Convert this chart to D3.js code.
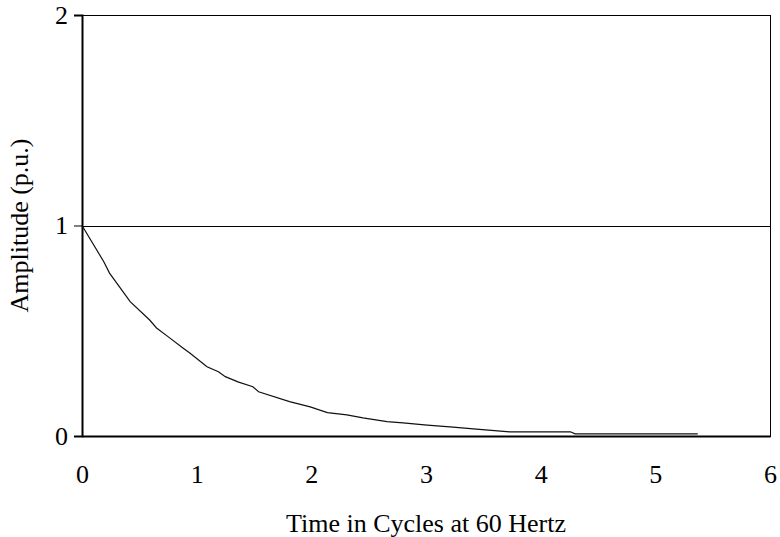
<!DOCTYPE html>
<meta charset="utf-8">
<style>
  body { margin: 0; background: #fff; }
  text { font-family: 'Liberation Serif', 'Times New Roman', serif; fill: #000; }
</style>
<script src="https://d3js.org/d3.v7.min.js"></script>
<div id="chart"></div>
<script>
// decay curve (time in cycles, amplitude in p.u.)
var cycles = [0, 0.19, 0.24, 0.42, 0.59, 0.65, 0.75, 0.88, 0.94, 1.09, 1.19, 1.25, 1.36, 1.49, 1.54,
              1.81, 1.99, 2.14, 2.31, 2.45, 2.66, 2.80, 3.01, 3.21, 3.44, 3.73, 4.26, 4.30, 5.37];
var amplitude = [1.0, 0.828, 0.774, 0.638, 0.551, 0.513, 0.472, 0.418, 0.394, 0.329, 0.305, 0.282, 0.257, 0.234, 0.210,
                 0.163, 0.138, 0.111, 0.100, 0.086, 0.068, 0.062, 0.052, 0.043, 0.033, 0.020, 0.020, 0.010, 0.010];
var xTicks = [0, 1, 2, 3, 4, 5, 6];
var yTicks = [0, 1, 2];
var refLevel = [1];

var margin = {top: 15, right: 10, bottom: 101, left: 82},
    width = 780 - margin.left - margin.right,
    height = 537 - margin.top - margin.bottom;

var svg = d3.select("#chart")
  .append("svg")
    .attr("width", 780)
    .attr("height", 537)
  .append("g")
    .attr("transform", "translate(" + margin.left + "," + margin.top + ")");

var x = d3.scaleLinear().domain([0, 6]).range([0, width]);
var y = d3.scaleLinear().domain([0, 2]).range([height, 0]);

// plot frame (top and right thin)
svg.append("rect")
  .attr("x", 0).attr("y", 0)
  .attr("width", width).attr("height", height)
  .attr("fill", "none")
  .attr("stroke", "#000")
  .attr("stroke-width", 1)
  .attr("shape-rendering", "crispEdges");

// reference line at 1 p.u.
svg.selectAll(".ref")
  .data(refLevel)
  .enter().append("line")
    .attr("x1", 0).attr("x2", width)
    .attr("y1", function(d) { return Math.round(y(d)) + 0.5; })
    .attr("y2", function(d) { return Math.round(y(d)) + 0.5; })
    .attr("stroke", "#000")
    .attr("stroke-width", 1);

// Y axis
var yAxis = svg.append("g")
  .call(d3.axisLeft(y).tickValues(yTicks).tickSize(8).tickPadding(6).tickFormat(d3.format("d")));
yAxis.select(".domain").attr("stroke-width", 2);
yAxis.selectAll("text").style("font-size", "26px").attr("font-family", null);

// X axis
var xAxis = svg.append("g")
  .attr("transform", "translate(0," + height + ")")
  .call(d3.axisBottom(x).tickValues(xTicks).tickSize(0).tickPadding(29).tickFormat(d3.format("d")));
xAxis.select(".domain").attr("stroke-width", 2);
xAxis.selectAll("text").style("font-size", "26px").attr("font-family", null);

// decay curve
var pts = cycles.map(function(t, i) { return [t, amplitude[i]]; });
svg.append("path")
  .datum(pts)
  .attr("fill", "none")
  .attr("stroke", "#111")
  .attr("stroke-width", 1.2)
  .attr("d", d3.line()
    .x(function(d) { return x(d[0]); })
    .y(function(d) { return y(d[1]); }));

// axis titles
svg.append("text")
  .attr("x", width / 2)
  .attr("y", height + 96)
  .attr("text-anchor", "middle")
  .style("font-size", "26px")
  .text("Time in Cycles at 60 Hertz");

svg.append("text")
  .attr("transform", "translate(-54," + (height / 2) + ")rotate(-90)")
  .attr("text-anchor", "middle")
  .style("font-size", "26px")
  .text("Amplitude (p.u.)");
</script>
